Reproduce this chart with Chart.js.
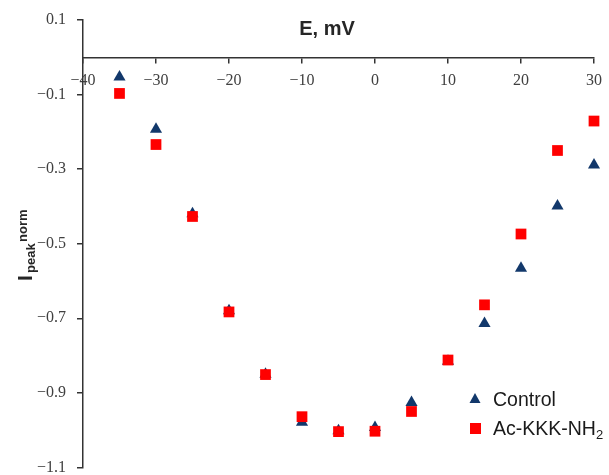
<!DOCTYPE html>
<html>
<head>
<meta charset="utf-8">
<script src="https://cdn.jsdelivr.net/npm/chart.js@4/dist/chart.umd.min.js"></script>
<style>
  html, body { margin: 0; padding: 0; background: #fff; }
  #wrap { width: 609px; height: 475px; position: relative; }
</style>
</head>
<body>
<div id="wrap"><canvas id="ivChart"></canvas></div>
<script>
// membrane potential, mV
const voltages = [-35, -30, -25, -20, -15, -10, -5, 0, 5, 10, 15, 20, 25, 30];
// normalized peak current
const controlPeak = [-0.053, -0.193, -0.420, -0.680, -0.850, -0.979, -1.002, -0.993, -0.926, -0.815, -0.714, -0.566, -0.399, -0.289];
const acKKKPeak   = [-0.097, -0.234, -0.427, -0.683, -0.851, -0.964, -1.004, -1.003, -0.950, -0.812, -0.664, -0.474, -0.250, -0.171];
const yTickValues = [0.1, -0.1, -0.3, -0.5, -0.7, -0.9, -1.1];

const navy = '#12386b';
const red = '#ff0000';
const axisColor = '#333333';

const fmt = v => {
  const s = Math.abs(v) < 1e-9 ? '0' : String(Math.round(Math.abs(v) * 10) / 10);
  return v < -1e-9 ? '\u2212' + s : s;
};

const textPlugin = {
  id: 'textPlugin',
  afterDraw(chart) {
    const ctx = chart.ctx;
    ctx.save();
    // x axis title
    ctx.fillStyle = '#262626';
    ctx.font = 'bold 20px "Liberation Sans", Arial, sans-serif';
    ctx.textAlign = 'center';
    ctx.textBaseline = 'middle';
    ctx.fillText('E, mV', 327, 29);

    // y axis title, rotated
    ctx.save();
    ctx.translate(32, 281);
    ctx.rotate(-Math.PI / 2);
    ctx.textAlign = 'left';
    ctx.textBaseline = 'alphabetic';
    ctx.font = 'bold 21px "Liberation Sans", Arial, sans-serif';
    ctx.fillText('I', 0, 0);
    ctx.font = 'bold 13px "Liberation Sans", Arial, sans-serif';
    ctx.fillText('peak', 8, 3);
    ctx.fillText('norm', 39, -5);
    ctx.restore();

    // legend
    ctx.fillStyle = navy;
    ctx.beginPath();
    ctx.moveTo(475, 393);
    ctx.lineTo(480.5, 403);
    ctx.lineTo(469.5, 403);
    ctx.closePath();
    ctx.fill();
    ctx.fillStyle = red;
    ctx.fillRect(470, 423, 11, 11);

    ctx.fillStyle = '#1a1a1a';
    ctx.font = '19.5px "Liberation Sans", Arial, sans-serif';
    ctx.textAlign = 'left';
    ctx.textBaseline = 'alphabetic';
    ctx.fillText('Control', 493, 406);
    ctx.fillText('Ac-KKK-NH', 493, 435);
    const w = ctx.measureText('Ac-KKK-NH').width;
    ctx.font = '13px "Liberation Sans", Arial, sans-serif';
    ctx.fillText('2', 493 + w, 439);
    ctx.restore();
  }
};

new Chart(document.getElementById('ivChart'), {
  type: 'scatter',
  data: {
    datasets: [
      {
        label: 'Control',
        data: voltages.map((x, i) => ({ x, y: controlPeak[i] })),
        pointStyle: 'triangle',
        pointRadius: 7,
        pointHoverRadius: 7,
        backgroundColor: navy,
        borderColor: navy,
        borderWidth: 0,
        clip: false,
        order: 1
      },
      {
        label: 'Ac-KKK-NH2',
        data: voltages.map((x, i) => ({ x, y: acKKKPeak[i] })),
        pointStyle: 'rect',
        pointRadius: 7.6,
        pointHoverRadius: 7.6,
        backgroundColor: red,
        borderColor: red,
        borderWidth: 0,
        clip: false,
        order: 0
      }
    ]
  },
  options: {
    responsive: true,
    maintainAspectRatio: false,
    animation: false,
    layout: { padding: { top: 20, right: 15, bottom: 7, left: 0 } },
    plugins: { legend: { display: false }, tooltip: { enabled: false } },
    scales: {
      x: {
        type: 'linear',
        min: -40, max: 30,
        position: { y: 0 },
        border: { color: axisColor, width: 1.5 },
        grid: { drawOnChartArea: false, drawTicks: true, tickLength: 5, color: axisColor, lineWidth: 1.5 },
        afterFit: scale => {
          scale.height = 0;
          scale.paddingLeft = 0; scale.paddingRight = 0;
          scale.paddingTop = 0; scale.paddingBottom = 0;
        },
        ticks: {
          stepSize: 10,
          padding: 9,
          maxRotation: 0,
          color: '#404040',
          font: { family: '"Liberation Serif", "Times New Roman", serif', size: 16 },
          callback: v => fmt(v)
        }
      },
      y: {
        type: 'linear',
        min: -1.1, max: 0.1,
        border: { color: axisColor, width: 1.5 },
        grid: { drawOnChartArea: false, drawTicks: true, tickLength: 6, color: axisColor, lineWidth: 1.5 },
        afterBuildTicks: scale => { scale.ticks = yTickValues.map(v => ({ value: v })); },
        afterFit: scale => {
          scale.width = 83;
          scale.paddingTop = 0; scale.paddingBottom = 0;
        },
        ticks: {
          padding: 11,
          color: '#404040',
          font: { family: '"Liberation Serif", "Times New Roman", serif', size: 16 },
          callback: v => fmt(v)
        }
      }
    }
  },
  plugins: [textPlugin]
});
</script>
</body>
</html>
